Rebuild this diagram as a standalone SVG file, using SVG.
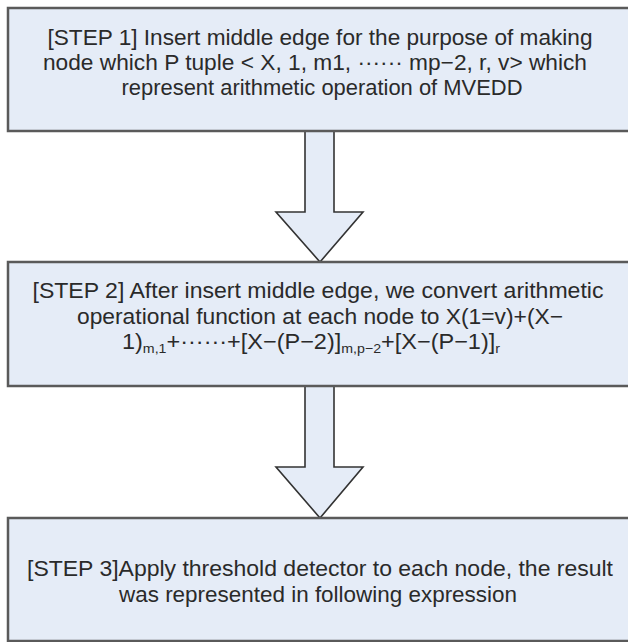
<svg xmlns="http://www.w3.org/2000/svg" width="628" height="642" viewBox="0 0 628 642">
<style>
.box{fill:#E5ECF7;stroke:#5a5a5a;stroke-width:2.5}
.arr{fill:#E5ECF7;stroke:#333;stroke-width:1.6;stroke-linejoin:miter}
.t{font-family:"Liberation Sans",Arial,sans-serif;font-size:21.5px;fill:#2a2a2a;text-anchor:middle}
.s{font-size:13px}
</style>
<rect width="628" height="642" fill="#fff"/>
<g id="connectors">
<g id="arrow1">
<polygon points="305,132 305,212 276,212 320,262 363,212 334,212 334,132" fill="#E5ECF7" stroke="none"/>
<polyline class="arr" points="305,132 305,212 276,212 320,262 363,212 334,212 334,132"/>
</g>
<g id="arrow2">
<polygon points="305,387 305,467 276,467 320,518 363,467 334,467 334,387" fill="#E5ECF7" stroke="none"/>
<polyline class="arr" points="305,387 305,467 276,467 320,518 363,467 334,467 334,387"/>
</g>
</g>
<g id="step1">
<rect class="box" x="8" y="8" width="630" height="123"/>
<text class="t" x="320" y="45" textLength="545" lengthAdjust="spacingAndGlyphs">[STEP 1] Insert middle edge for the purpose of making</text>
<text class="t" x="315" y="70" textLength="544" lengthAdjust="spacingAndGlyphs">node which P tuple &lt; X, 1, m1, ······ mp−2, r, v&gt; which</text>
<text class="t" x="322" y="95" textLength="401" lengthAdjust="spacingAndGlyphs">represent arithmetic operation of MVEDD</text>
</g>
<g id="step2">
<rect class="box" x="8" y="262" width="630" height="124"/>
<text class="t" x="318" y="298" textLength="571" lengthAdjust="spacingAndGlyphs">[STEP 2] After insert middle edge, we convert arithmetic</text>
<text class="t" x="320" y="324" textLength="486" lengthAdjust="spacingAndGlyphs">operational function at each node to X(1=v)+(X−</text>
<text class="t" x="311" y="349" textLength="378" lengthAdjust="spacingAndGlyphs">1)<tspan class="s" dy="4">m,1</tspan><tspan dy="-4">+······+[X−(P−2)]</tspan><tspan class="s" dy="4">m,p−2</tspan><tspan dy="-4">+[X−(P−1)]</tspan><tspan class="s" dy="4">r</tspan></text>
</g>
<g id="step3">
<rect class="box" x="8" y="518" width="630" height="123"/>
<text class="t" x="320" y="576" textLength="586" lengthAdjust="spacingAndGlyphs">[STEP 3]Apply threshold detector to each node, the result</text>
<text class="t" x="318" y="602" textLength="398" lengthAdjust="spacingAndGlyphs">was represented in following expression</text>
</g>
</svg>
